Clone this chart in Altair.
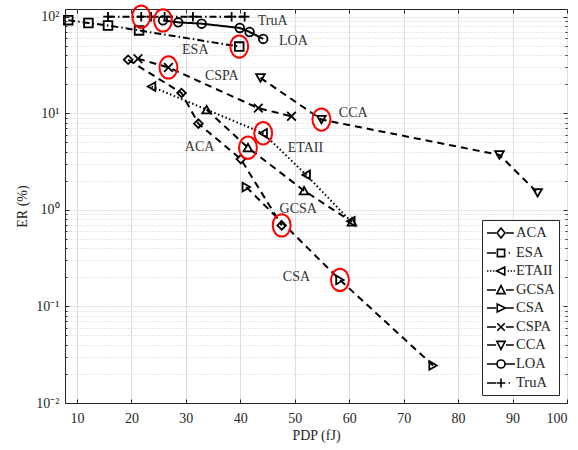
import altair as alt
import pandas as pd

# ---------------- data ----------------
series = ["ACA", "ESA", "ETAII", "GCSA", "CSA", "CSPA", "CCA", "LOA", "TruA"]

aca_x = [19.4, 29.2, 32.3, 40.1, 47.6]
aca_y = [35.8, 16.2, 7.8, 3.35, 0.69]
esa_x = [8.4, 12.1, 15.7, 21.4, 39.8]
esa_y = [92, 86, 81, 72, 49]
etaii_x = [23.7, 44.2, 52.1, 60.3]
etaii_y = [18.9, 6.2, 2.3, 0.76]
gcsa_x = [33.8, 41.4, 51.7, 60.5]
gcsa_y = [10.9, 4.4, 1.58, 0.75]
csa_x = [41.1, 58.3, 75.4]
csa_y = [1.72, 0.188, 0.0245]
cspa_x = [21.2, 26.8, 43.3, 49.4]
cspa_y = [36.7, 29.8, 11.3, 9.3]
cca_x = [43.7, 54.9, 87.6, 94.6]
cca_y = [23.2, 8.6, 3.7, 1.5]
loa_x = [25.8, 28.6, 32.9, 39.9, 41.7, 44.2]
loa_y = [91.5, 87.3, 84.6, 76.4, 69.4, 58.8]
trua_x = [15.7, 21.8, 23.6, 26.1, 31.3, 38.4, 40.8]
trua_y = [100, 100, 100, 100, 100, 100, 100]

# highlighted (red ellipse) points
hl_x = [21.8, 25.8, 39.8, 26.8, 54.9, 44.2, 41.4, 47.6, 58.3]
hl_y = [100, 91.5, 49, 29.8, 8.6, 6.2, 4.4, 0.69, 0.188]

# in-plot text labels
lab_text = ["TruA", "LOA", "ESA", "CSPA", "CCA", "ETAII", "ACA", "GCSA", "CSA"]
lab_x = [43.2, 47.1, 29.3, 33.5, 58.1, 48.7, 29.8, 47.2, 47.8]
lab_y = [90.9, 56.4, 45.5, 24.5, 10.1, 4.39, 4.5, 1.02, 0.202]

x_ticks = [10, 20, 30, 40, 50, 60, 70, 80, 90, 100]
y_all = [k * 10.0 ** e for e in range(-2, 2) for k in range(1, 10)] + [100]

# ---------------- styling ----------------
dash_styles = [[7, 5], [7, 3, 1.5, 3], [1.5, 2.5], [7, 5], [7, 5], [7, 5], [7, 5], [1, 0], [7, 3, 1.5, 3]]
plot_shapes = [
    "diamond", "square", "triangle-left", "triangle-up", "triangle-right",
    "M-1,-1L1,1M-1,1L1,-1", "triangle-down", "circle", "M-1.1,0L1.1,0M0,-1.1L0,1.1",
]
# legend symbols: path units are 8 px (symbolSize 256)
dashed = "M-1.75,0H-0.62M0.62,0H1.6"
dashdot = "M-1.75,0H-0.62M0.95,0H1.12"
dotted = "M-1.75,0H-1.58M-1.38,0H-1.21M-1.01,0H-0.84M0.84,0H1.01M1.21,0H1.38M1.58,0H1.75"
solid = "M-1.75,0H-0.5M0.5,0H1.75"
legend_shapes = [
    dashed + "M0,-0.62L0.5,0L0,0.62L-0.5,0Z",
    dashdot + "M-0.45,-0.45H0.45V0.45H-0.45Z",
    dotted + "M-0.55,0L0.47,-0.5L0.47,0.5Z",
    dashed + "M0,-0.55L0.52,0.45L-0.52,0.45Z",
    dashed + "M0.55,0L-0.47,-0.5L-0.47,0.5Z",
    dashed + "M-0.47,-0.47L0.47,0.47M-0.47,0.47L0.47,-0.47",
    dashed + "M0,0.55L0.52,-0.45L-0.52,-0.45Z",
    solid + "M0.5,0A0.5,0.5 0 1,1 -0.5,0A0.5,0.5 0 1,1 0.5,0Z",
    dashdot + "M-0.55,0H0.55M0,-0.55V0.55",
]
ellipse = "M0,-1A0.8,1 0 1,1 0,1A0.8,1 0 1,1 0,-1Z"
FONT = "Liberation Serif"
INK = "#262626"

# ---------------- tables ----------------
xs = [aca_x, esa_x, etaii_x, gcsa_x, csa_x, cspa_x, cca_x, loa_x, trua_x]
ys = [aca_y, esa_y, etaii_y, gcsa_y, csa_y, cspa_y, cca_y, loa_y, trua_y]
rows = []
for name, sx, sy in zip(series, xs, ys):
    for i, (a, b) in enumerate(zip(sx, sy)):
        rows.append({"series": name, "pdp": a, "er": b, "i": i})
df = pd.DataFrame(rows)
df_hl = pd.DataFrame({"pdp": hl_x, "er": hl_y})
df_lab = pd.DataFrame({"t": lab_text, "pdp": lab_x, "er": lab_y})
df_leg = pd.DataFrame({"series": series, "pdp": [50] * 9, "er": [1e-6] * 9})

xscale = alt.Scale(domain=[7.8, 100], nice=False, zero=False)
yscale = alt.Scale(type="log", domain=[0.01, 120], nice=False)

major_test = "abs(log(datum.value)/LN10 - round(log(datum.value)/LN10)) < 1e-6"
x_axis = alt.Axis(
    values=x_ticks, title="PDP (fJ)", grid=True, gridColor="#dedede",
    tickSize={"expr": "-4"}, tickColor=INK, domainColor=INK,
    labelFont=FONT, labelFontSize=14, labelColor=INK, labelPadding=12,
    titleFont=FONT, titleFontSize=14, titleFontWeight="normal", titleColor=INK, titlePadding=3,
)
y_axis = alt.Axis(
    values=y_all, title="ER (%)", grid=True,
    gridColor={"condition": {"test": major_test, "value": "#dedede"}, "value": "#cfcfcf"},
    gridDash={"condition": {"test": major_test, "value": [1, 0]}, "value": [1, 2]},
    tickSize={"expr": f"{major_test} ? -4 : -2"}, tickColor=INK, domainColor=INK,
    labelExpr="datum.value == 100 ? '10²' : datum.value == 10 ? '10¹' : datum.value == 1 ? '10⁰' : "
              "datum.value == 0.1 ? '10⁻¹' : datum.value == 0.01 ? '10⁻²' : ''",
    labelFont=FONT, labelFontSize=14, labelColor=INK, labelPadding=10,
    titleFont=FONT, titleFontSize=14, titleFontWeight="normal", titleColor=INK, titlePadding=6,
)
x_top = alt.Axis(
    orient="top", values=x_ticks, title=None, labels=False, grid=False, domain=False,
    tickSize={"expr": "-4"}, tickColor=INK,
)
y_right = alt.Axis(
    orient="right", values=y_all, title=None, labels=False, grid=False, domain=False,
    tickSize={"expr": f"{major_test} ? -4 : -2"}, tickColor=INK,
)

base = alt.Chart(df)
lines = base.mark_line(strokeWidth=2, color="black").encode(
    x=alt.X("pdp:Q", scale=xscale, axis=x_axis),
    y=alt.Y("er:Q", scale=yscale, axis=y_axis),
    detail="series:N",
    order="i:Q",
    strokeDash=alt.StrokeDash("series:N", scale=alt.Scale(domain=series, range=dash_styles), legend=None),
)
points = base.mark_point(filled=False, color="black", strokeWidth=1.8, size=75, opacity=1).encode(
    x=alt.X("pdp:Q", scale=xscale, axis=None),
    y=alt.Y("er:Q", scale=yscale, axis=None),
    shape=alt.Shape("series:N", scale=alt.Scale(domain=series, range=plot_shapes), legend=None),
)
legend_layer = alt.Chart(df_leg).mark_point(filled=False, color="black", clip=True, opacity=1).encode(
    x=alt.X("pdp:Q", scale=xscale, axis=None),
    y=alt.Y("er:Q", scale=yscale, axis=None),
    shape=alt.Shape(
        "series:N",
        scale=alt.Scale(domain=series, range=legend_shapes),
        legend=alt.Legend(
            title=None, orient="none", legendX=417, legendY=211,
            strokeColor=INK, fillColor="white", padding=4,
            labelFont=FONT, labelFontSize=14.5, labelColor=INK,
            symbolSize=256, symbolStrokeWidth=1.6, symbolStrokeColor="black",
            symbolFillColor="transparent", symbolOffset=6, labelOffset=6, rowPadding=2,
        ),
    ),
)
highlights = alt.Chart(df_hl).mark_point(
    shape=ellipse, size=500, color="red", strokeWidth=2, filled=False, opacity=1
).encode(x=alt.X("pdp:Q", scale=xscale, axis=None), y=alt.Y("er:Q", scale=yscale, axis=None))
labels = alt.Chart(df_lab).mark_text(
    align="left", baseline="middle", font=FONT, fontSize=14, color="#333333"
).encode(x=alt.X("pdp:Q", scale=xscale, axis=x_top), y=alt.Y("er:Q", scale=yscale, axis=y_right), text="t:N")

chart = (
    alt.layer(lines, points, highlights, labels, legend_layer)
    .resolve_scale(shape="independent")
    .resolve_axis(x="independent", y="independent")
    .properties(
        width=502, height=394,
        autosize=alt.AutoSizeParams(type="none"),
        padding={"left": 65, "top": 9, "right": 11, "bottom": 47},
        background="white",
    )
    .configure_view(stroke=INK, strokeWidth=1)
)

chart.save("out.html", embed_options={"renderer": "svg", "actions": False})
